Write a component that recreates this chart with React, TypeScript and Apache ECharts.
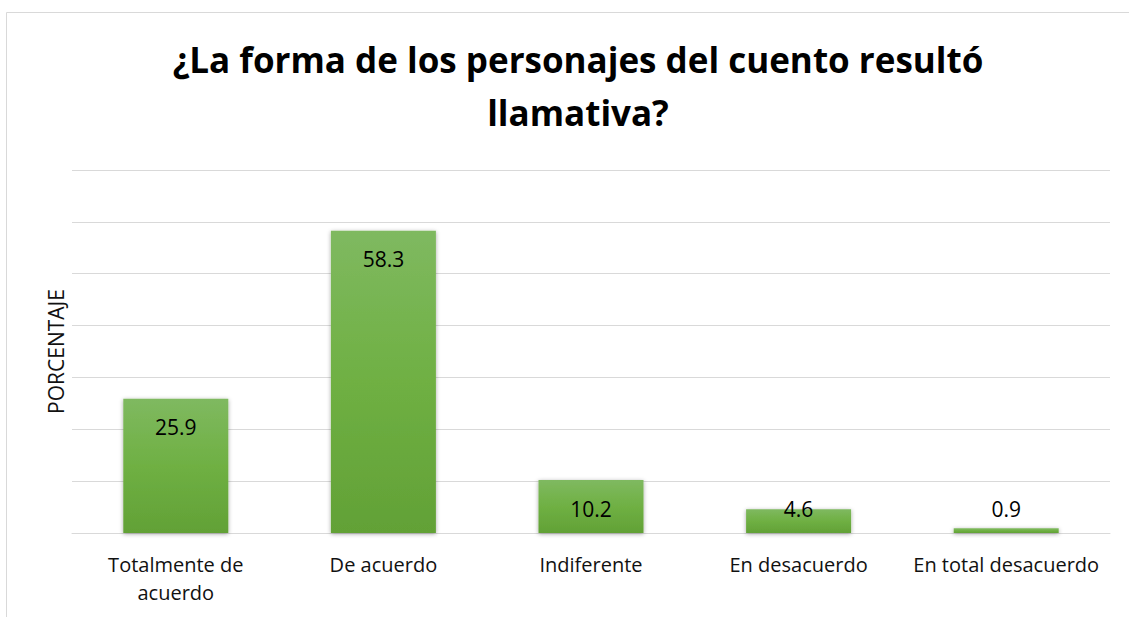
import React, { useEffect, useRef } from "react";
import * as echarts from "echarts";

const titleText = "¿La forma de los personajes del cuento resultó\nllamativa?";
const categories = [
  "Totalmente de acuerdo",
  "De acuerdo",
  "Indiferente",
  "En desacuerdo",
  "En total desacuerdo",
];
const values = [25.9, 58.3, 10.2, 4.6, 0.9];
const yAxisName = "PORCENTAJE";
const FONT = "'Open Sans', 'Noto Sans', sans-serif";

export default function App() {
  const ref = useRef<HTMLDivElement>(null);
  useEffect(() => {
    if (!ref.current) return;
    const chart = echarts.init(ref.current, undefined, { renderer: "svg" });
    const barColor = new echarts.graphic.LinearGradient(0, 0, 0, 1, [
      { offset: 0, color: "#7fb960" },
      { offset: 0.5, color: "#6fb043" },
      { offset: 1, color: "#62a136" },
    ]);
    const labelFor = (v: number) => {
      if (v >= 8) return { position: "insideTop", distance: 18 };
      if (v >= 3) return { position: "top", distance: -10 };
      return { position: "top", distance: 9 };
    };
    chart.setOption({
      animation: false,
      backgroundColor: "#fff",
      textStyle: { fontFamily: FONT },
      title: {
        text: titleText,
        left: 573,
        textAlign: "center",
        top: 28,
        textStyle: {
          fontFamily: FONT,
          fontSize: 35,
          fontWeight: "bold",
          color: "#000",
          lineHeight: 53,
        },
      },
      graphic: [
        {
          type: "rect",
          shape: { x: 6.5, y: 12.5, width: 1300, height: 800 },
          style: { fill: "none", stroke: "#d9d9d9", lineWidth: 1 },
          silent: true,
        },
      ],
      grid: { left: 72, right: 19, top: 170, bottom: 84 },
      xAxis: {
        type: "category",
        data: categories,
        axisLine: { show: true, lineStyle: { color: "#d9d9d9" } },
        axisTick: { show: false },
        axisLabel: {
          fontFamily: FONT,
          fontSize: 20,
          color: "#111",
          margin: 17,
          lineHeight: 28,
          interval: 0,
          formatter: (v: string) =>
            v === "Totalmente de acuerdo" ? "Totalmente de\nacuerdo" : v,
        },
      },
      yAxis: {
        type: "value",
        min: 0,
        max: 70,
        interval: 10,
        name: yAxisName,
        nameLocation: "middle",
        nameGap: 6,
        nameTextStyle: { fontFamily: FONT, fontSize: 21, color: "#111" },
        axisLabel: { show: false },
        axisLine: { show: false },
        axisTick: { show: false },
        splitLine: { lineStyle: { color: "#d9d9d9", width: 1 } },
      },
      series: [
        {
          type: "bar",
          barWidth: 105,
          data: values.map((v) => ({
            value: v,
            label: labelFor(v),
          })),
          itemStyle: {
            color: barColor,
            shadowBlur: 4,
            shadowColor: "rgba(0,0,0,0.35)",
            shadowOffsetY: 1,
          },
          label: {
            show: true,
            fontFamily: FONT,
            fontSize: 21,
            color: "#000",
          },
        },
      ],
    });
    return () => chart.dispose();
  }, []);
  return (
    <div
      ref={ref}
      style={{ position: "fixed", left: 0, top: 0, width: 1129, height: 617 }}
    />
  );
}
